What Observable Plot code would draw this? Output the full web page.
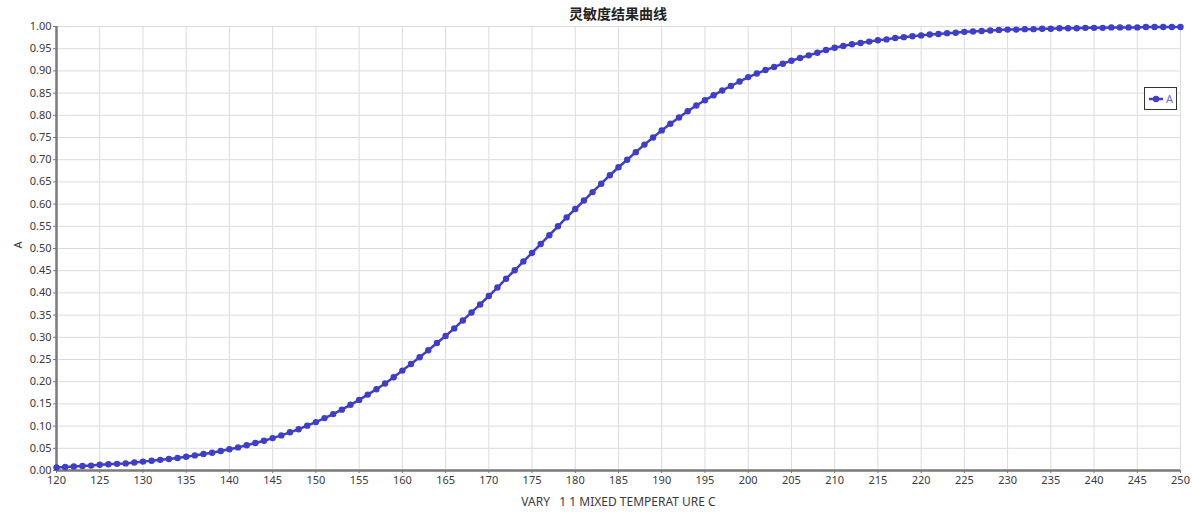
<!DOCTYPE html>
<html>
<head>
<meta charset="utf-8">
<script src="https://cdn.jsdelivr.net/npm/d3@7"></script>
<script src="https://cdn.jsdelivr.net/npm/@observablehq/plot@0.6"></script>
<style>
  html, body { margin: 0; padding: 0; background: #fff; }
  #wrap { position: relative; width: 1192px; height: 518px; overflow: hidden; }
  #title { height: 14px; line-height: 26px; padding-left: 56px; width: 1124px; text-align: center; overflow: visible;
           font-family: "Noto Sans CJK SC", "Noto Sans", sans-serif; font-size: 14px; font-weight: 600; color: #222;
           position: relative; z-index: 2; }
  #legend { position: absolute; left: 1144px; top: 87px; width: 33px; height: 23px; border: 1px solid #333;
            background: #fff; box-sizing: border-box; }
</style>
</head>
<body>
<div id="wrap">
  <div id="title">灵敏度结果曲线</div>
  <div id="chart"></div>
  <div id="legend"></div>
</div>
<script>
// ---- data ----
const seriesName = "A";
const xStart = 120;
const yValues = [
  0.007, 0.008, 0.009, 0.010, 0.011,
  0.013, 0.014, 0.015, 0.016, 0.018,
  0.020, 0.022, 0.024, 0.026, 0.028,
  0.031, 0.034, 0.037, 0.040, 0.044,
  0.048, 0.052, 0.057, 0.062, 0.067,
  0.073, 0.079, 0.086, 0.093, 0.101,
  0.109, 0.118, 0.127, 0.137, 0.148,
  0.159, 0.171, 0.183, 0.196, 0.210,
  0.225, 0.240, 0.255, 0.271, 0.287,
  0.303, 0.320, 0.338, 0.356, 0.374,
  0.393, 0.412, 0.432, 0.451, 0.471,
  0.490, 0.510, 0.530, 0.550, 0.570,
  0.589, 0.608, 0.627, 0.646, 0.665,
  0.683, 0.700, 0.717, 0.734, 0.750,
  0.766, 0.781, 0.795, 0.809, 0.822,
  0.834, 0.845, 0.856, 0.866, 0.876,
  0.886, 0.894, 0.902, 0.909, 0.916,
  0.923, 0.929, 0.935, 0.941, 0.947,
  0.952, 0.956, 0.960, 0.963, 0.966,
  0.969, 0.971, 0.974, 0.976, 0.978,
  0.980, 0.982, 0.983, 0.985, 0.986,
  0.988, 0.989, 0.990, 0.991, 0.992,
  0.993, 0.993, 0.994, 0.994, 0.995,
  0.995, 0.996, 0.996, 0.996, 0.997,
  0.997, 0.997, 0.998, 0.998, 0.998,
  0.998, 0.999, 0.999, 0.999, 0.999,
  0.999
];
const xTicks = [120,125,130,135,140,145,150,155,160,165,170,175,180,185,190,195,200,205,210,215,220,225,230,235,240,245,250];
const yTicks = [0,0.05,0.10,0.15,0.20,0.25,0.30,0.35,0.40,0.45,0.50,0.55,0.60,0.65,0.70,0.75,0.80,0.85,0.90,0.95,1.00];
const xLabel = "VARY   1 1 MIXED TEMPERAT URE C";
const yLabel = "A";

const data = yValues.map((y, i) => ({x: xStart + i, y}));
const lineColor = "#3e3ec6";
const gridColor = "#dcdcdc";
const axisColor = "#7a7a7a";
const textColor = "#3a3a3a";

const plot = Plot.plot({
  width: 1192,
  height: 504,
  marginTop: 12,
  marginBottom: 48,
  marginLeft: 56,
  marginRight: 12,
  style: { fontFamily: "'Noto Sans', sans-serif", fontSize: "11px", color: textColor, background: "#fff" },
  x: { domain: [120, 250] },
  y: { domain: [0, 1] },
  marks: [
    Plot.gridX(xTicks, { stroke: gridColor, strokeOpacity: 1, strokeWidth: 1 }),
    Plot.gridY(yTicks, { stroke: gridColor, strokeOpacity: 1, strokeWidth: 1 }),
    Plot.ruleX([120], { stroke: axisColor, strokeWidth: 2.5 }),
    Plot.ruleY([0], { stroke: axisColor, strokeWidth: 2.5 }),
    Plot.axisX({ ticks: xTicks, tickFormat: d => String(d), tickSize: 3, tickPadding: 3, stroke: axisColor, fill: textColor, label: null }),
    Plot.axisY({ ticks: yTicks, tickFormat: d => d.toFixed(2), tickSize: 3, tickPadding: 2, stroke: axisColor, fill: textColor, label: null }),
    Plot.text([xLabel], { frameAnchor: "bottom", dy: 35, text: d => d, fontSize: 12, fill: textColor }),
    Plot.text([yLabel], { frameAnchor: "left", dx: -38, rotate: -90, text: d => d, fontSize: 11, fill: textColor }),
    Plot.line(data, { x: "x", y: "y", stroke: lineColor, strokeWidth: 2.5 }),
    Plot.dot(data, { x: "x", y: "y", r: 3.2, fill: lineColor, stroke: "none" })
  ]
});
document.getElementById("chart").appendChild(plot);

// legend
const lg = d3.select("#legend").append("svg").attr("width", 31).attr("height", 21);
lg.append("line").attr("x1", 4).attr("x2", 18).attr("y1", 11).attr("y2", 11).attr("stroke", lineColor).attr("stroke-width", 2.5);
lg.append("circle").attr("cx", 11).attr("cy", 11).attr("r", 3.2).attr("fill", lineColor);
lg.append("text").attr("x", 21).attr("y", 15).attr("font-family", "'Noto Sans', sans-serif").attr("font-size", 11)
  .attr("fill", "#6a6ad8").text(seriesName);
</script>
</body>
</html>
